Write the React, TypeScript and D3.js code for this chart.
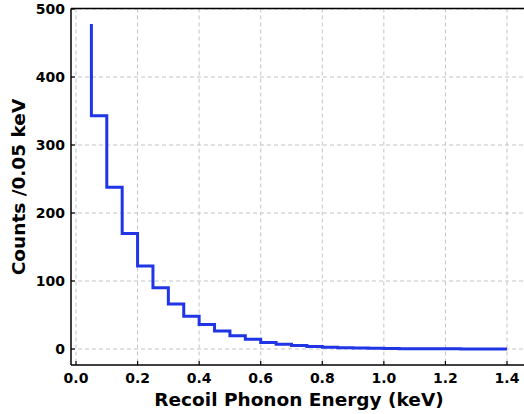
import React, { useEffect, useRef } from "react";
import * as d3 from "d3";

const energies: number[] = [
  0.05, 0.1, 0.15, 0.2, 0.25, 0.3, 0.35, 0.4, 0.45, 0.5, 0.55, 0.6, 0.65, 0.7,
  0.75, 0.8, 0.85, 0.9, 0.95, 1.0, 1.05, 1.1, 1.15, 1.2, 1.25, 1.3, 1.35, 1.4,
];
const counts: number[] = [
  478, 343, 238, 170, 122, 90, 66, 48, 36, 26.5, 19.5, 14.5, 9.5, 7, 5, 3.5,
  2.5, 1.8, 1.3, 1.0, 0.7, 0.5, 0.4, 0.3, 0.2, 0.15, 0.1, 0.08,
];
const xTicks: number[] = [0, 0.2, 0.4, 0.6, 0.8, 1.0, 1.2, 1.4];
const yTicks: number[] = [0, 100, 200, 300, 400, 500];

export default function App() {
  const ref = useRef<SVGSVGElement>(null);
  useEffect(() => {
    document.body.style.margin = "0";
    const svg = d3.select(ref.current);
    svg.selectAll("*").remove();
    const left = 71, top = 8.5, bottom = 365, right = 540;
    const x = d3.scaleLinear().domain([0, 1.4]).range([76, 507]);
    const y = d3.scaleLinear().domain([0, 500]).range([349, 9]);
    const font = "DejaVu Sans, sans-serif";

    const g = svg.append("g");
    g.selectAll(".gx").data(xTicks).join("line")
      .attr("x1", d => x(d)).attr("x2", d => x(d))
      .attr("y1", top).attr("y2", bottom)
      .attr("stroke", "#c4c4c4").attr("stroke-width", 1)
      .attr("stroke-dasharray", "4,3");
    g.selectAll(".gy").data(yTicks).join("line")
      .attr("x1", left).attr("x2", right)
      .attr("y1", d => y(d)).attr("y2", d => y(d))
      .attr("stroke", "#c4c4c4").attr("stroke-width", 1)
      .attr("stroke-dasharray", "4,3");

    const line = d3.line<number>()
      .x((_, i) => x(energies[i]))
      .y(d => y(d))
      .curve(d3.curveStepBefore);
    g.append("path").datum(counts)
      .attr("d", line)
      .attr("fill", "none")
      .attr("stroke", "#1f35e6")
      .attr("stroke-width", 3);

    g.append("line").attr("x1", left).attr("x2", left).attr("y1", top).attr("y2", bottom)
      .attr("stroke", "#000").attr("stroke-width", 1.5);
    g.append("line").attr("x1", left).attr("x2", right).attr("y1", bottom).attr("y2", bottom)
      .attr("stroke", "#000").attr("stroke-width", 1.5);
    g.append("line").attr("x1", left).attr("x2", right).attr("y1", top).attr("y2", top)
      .attr("stroke", "#000").attr("stroke-width", 1.5);

    g.selectAll(".tx").data(xTicks).join("line")
      .attr("x1", d => x(d)).attr("x2", d => x(d))
      .attr("y1", bottom).attr("y2", bottom - 4)
      .attr("stroke", "#000").attr("stroke-width", 1.2);
    g.selectAll(".ty").data(yTicks).join("line")
      .attr("x1", left).attr("x2", left + 4)
      .attr("y1", d => y(d)).attr("y2", d => y(d))
      .attr("stroke", "#000").attr("stroke-width", 1.2);

    g.selectAll(".lx").data(xTicks).join("text")
      .attr("x", d => x(d)).attr("y", 383)
      .attr("text-anchor", "middle")
      .attr("font-family", font).attr("font-weight", "bold").attr("font-size", 14)
      .text(d => d.toFixed(1));
    g.selectAll(".ly").data(yTicks).join("text")
      .attr("x", 65).attr("y", d => y(d) + 5)
      .attr("text-anchor", "end")
      .attr("font-family", font).attr("font-weight", "bold").attr("font-size", 14)
      .text(d => String(d));

    g.append("text").attr("x", 299).attr("y", 406)
      .attr("text-anchor", "middle")
      .attr("font-family", font).attr("font-weight", "bold").attr("font-size", 18.5)
      .text("Recoil Phonon Energy (keV)");
    g.append("text")
      .attr("transform", `translate(25,187) rotate(-90)`)
      .attr("text-anchor", "middle")
      .attr("font-family", font).attr("font-weight", "bold").attr("font-size", 18.5)
      .text("Counts /0.05 keV");
  }, []);
  return (
    <svg ref={ref} width={524} height={414}
      style={{ position: "absolute", left: 0, top: 0, background: "#fff" }} />
  );
}
